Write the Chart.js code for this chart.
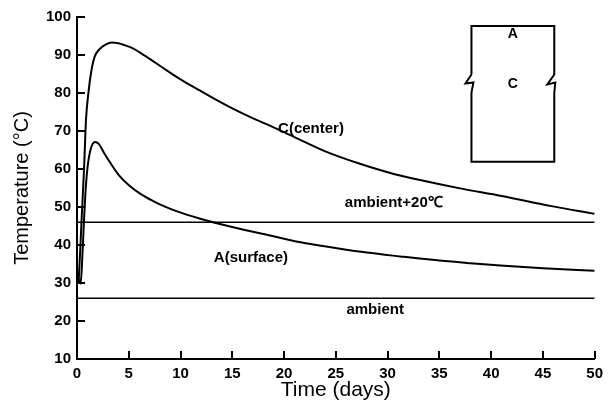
<!DOCTYPE html>
<html>
<head>
<meta charset="utf-8">
<script src="https://cdn.jsdelivr.net/npm/chart.js@4"></script>
<style>
  html, body { margin: 0; padding: 0; background: #fff; }
</style>
</head>
<body>
<canvas id="tempChart" width="609" height="403"></canvas>
<script>
// C (center) curve
const cDays = [0.15, 0.3, 0.45, 0.68, 0.87, 1.1, 1.4, 1.7, 2.2, 2.8, 3.35, 4, 4.6, 5.45, 6.5, 7.5, 8.7, 10, 11.9, 13.5, 15.1, 16.7, 18.3, 21, 24.1, 27.4, 30.6, 33.8, 37, 41, 45.7, 50];
const cTemp = [30, 38, 47, 60, 73, 80, 86, 89.5, 91.6, 92.8, 93.3, 93.1, 92.6, 91.7, 89.9, 88.1, 85.9, 83.6, 80.6, 78.1, 75.8, 73.7, 71.8, 68.4, 64.5, 61.3, 58.7, 56.7, 54.9, 52.9, 50.3, 48.2];

// A (surface) curve
const aDays = [0.2, 0.35, 0.5, 0.65, 0.8, 1.0, 1.3, 1.74, 2.1, 2.6, 3.2, 4.1, 5.1, 6.2, 7.4, 8.5, 9.6, 11.9, 14, 16, 18, 21.6, 25, 28, 31.2, 35, 38, 40.9, 45, 50];
const aTemp = [31, 29.8, 36, 45, 53, 60, 65, 67.1, 66.6, 64.3, 61.7, 58.2, 55.5, 53.3, 51.5, 50.1, 48.9, 46.9, 45.4, 44.1, 42.9, 40.7, 39.2, 38, 37, 35.9, 35.2, 34.6, 33.9, 33.2];

// 环境温度
const ambientDays = [0, 50];
const ambient = [26, 26];
const ambientPlus20 = [46, 46];

const xTicks = [0, 5, 10, 15, 20, 25, 30, 35, 40, 45, 50];
const yTicks = [10, 20, 30, 40, 50, 60, 70, 80, 90, 100];

const toPoints = (xs, ys) => xs.map((x, i) => ({ x: x, y: ys[i] }));

const FONT = "'Liberation Sans', Arial, sans-serif";

// 内向刻度
const innerTicks = {
  id: "innerTicks",
  afterDraw(chart) {
    const { ctx, scales: { x, y } } = chart;
    ctx.save();
    ctx.strokeStyle = "#000";
    ctx.lineWidth = 2;
    ctx.beginPath();
    xTicks.forEach(v => {
      const px = Math.round(x.getPixelForValue(v));
      ctx.moveTo(px, y.bottom);
      ctx.lineTo(px, y.bottom - 8);
    });
    yTicks.forEach(v => {
      const py = Math.round(y.getPixelForValue(v));
      ctx.moveTo(x.left, py);
      ctx.lineTo(x.left + 8, py);
    });
    ctx.stroke();
    ctx.restore();
  }
};

// 曲线注释和右上角示意图
const annotations = {
  id: "annotations",
  afterDraw(chart) {
    const { ctx, scales: { x, y } } = chart;
    ctx.save();
    ctx.fillStyle = "#000";
    ctx.font = "bold 15px " + FONT;
    ctx.textAlign = "center";
    ctx.textBaseline = "middle";
    ctx.fillText("C(center)", x.getPixelForValue(22.6), y.getPixelForValue(70.5));
    ctx.fillText("ambient+20℃", x.getPixelForValue(30.6), y.getPixelForValue(51.2));
    ctx.fillText("A(surface)", x.getPixelForValue(16.8), y.getPixelForValue(36.6));
    ctx.fillText("ambient", x.getPixelForValue(28.8), y.getPixelForValue(22.9));

    // inset
    const l = x.getPixelForValue(38.1), r = x.getPixelForValue(46.1);
    const t = y.getPixelForValue(97.6), b = y.getPixelForValue(61.9);
    const m = y.getPixelForValue(82.5);
    ctx.strokeStyle = "#000";
    ctx.lineWidth = 2;
    ctx.beginPath();
    ctx.moveTo(l, m - 9);
    ctx.lineTo(l, t);
    ctx.lineTo(r, t);
    ctx.lineTo(r, m - 9);
    ctx.lineTo(r - 7, m + 1);
    ctx.lineTo(r + 1, m - 1);
    ctx.lineTo(r, m + 10);
    ctx.lineTo(r, b);
    ctx.lineTo(l, b);
    ctx.lineTo(l, m + 9);
    ctx.lineTo(l + 2, m - 1);
    ctx.lineTo(l - 6, m);
    ctx.lineTo(l, m - 9);
    ctx.stroke();
    ctx.font = "bold 14px " + FONT;
    ctx.fillText("A", (l + r) / 2, t + 8);
    ctx.fillText("C", (l + r) / 2, m + 1);
    ctx.restore();
  }
};

new Chart(document.getElementById("tempChart"), {
  type: "line",
  data: {
    datasets: [
      { data: toPoints(cDays, cTemp), borderColor: "#000", borderWidth: 2, cubicInterpolationMode: "monotone" },
      { data: toPoints(aDays, aTemp), borderColor: "#000", borderWidth: 2, cubicInterpolationMode: "monotone" },
      { data: toPoints(ambientDays, ambientPlus20), borderColor: "#000", borderWidth: 1.5 },
      { data: toPoints(ambientDays, ambient), borderColor: "#000", borderWidth: 1.5 }
    ]
  },
  options: {
    responsive: false,
    animation: false,
    events: [],
    elements: { point: { radius: 0 } },
    layout: { padding: { top: 17, right: 9, left: 0, bottom: 0 } },
    plugins: { legend: { display: false }, tooltip: { enabled: false } },
    scales: {
      x: {
        type: "linear",
        min: 0, max: 50,
        afterBuildTicks: s => { s.ticks = xTicks.map(v => ({ value: v })); },
        afterFit: s => { s.height = 44; },
        grid: { display: false, drawTicks: false },
        border: { display: true, color: "#000", width: 2 },
        ticks: { color: "#000", font: { family: FONT, size: 15, weight: "bold" }, padding: 6, maxRotation: 0 },
        title: { display: true, text: "Time (days)", color: "#000", font: { family: FONT, size: 21 }, padding: { top: 0, bottom: 0 } }
      },
      y: {
        min: 10, max: 100,
        afterBuildTicks: s => { s.ticks = yTicks.map(v => ({ value: v })); },
        afterFit: s => { s.width = 77; },
        grid: { display: false, drawTicks: false },
        border: { display: true, color: "#000", width: 2 },
        ticks: { color: "#000", font: { family: FONT, size: 15, weight: "bold" }, padding: 6 },
        title: { display: true, text: "Temperature (°C)", color: "#000", font: { family: FONT, size: 20 }, padding: { top: 10, bottom: 0 } }
      }
    }
  },
  plugins: [innerTicks, annotations]
});
</script>
</body>
</html>
